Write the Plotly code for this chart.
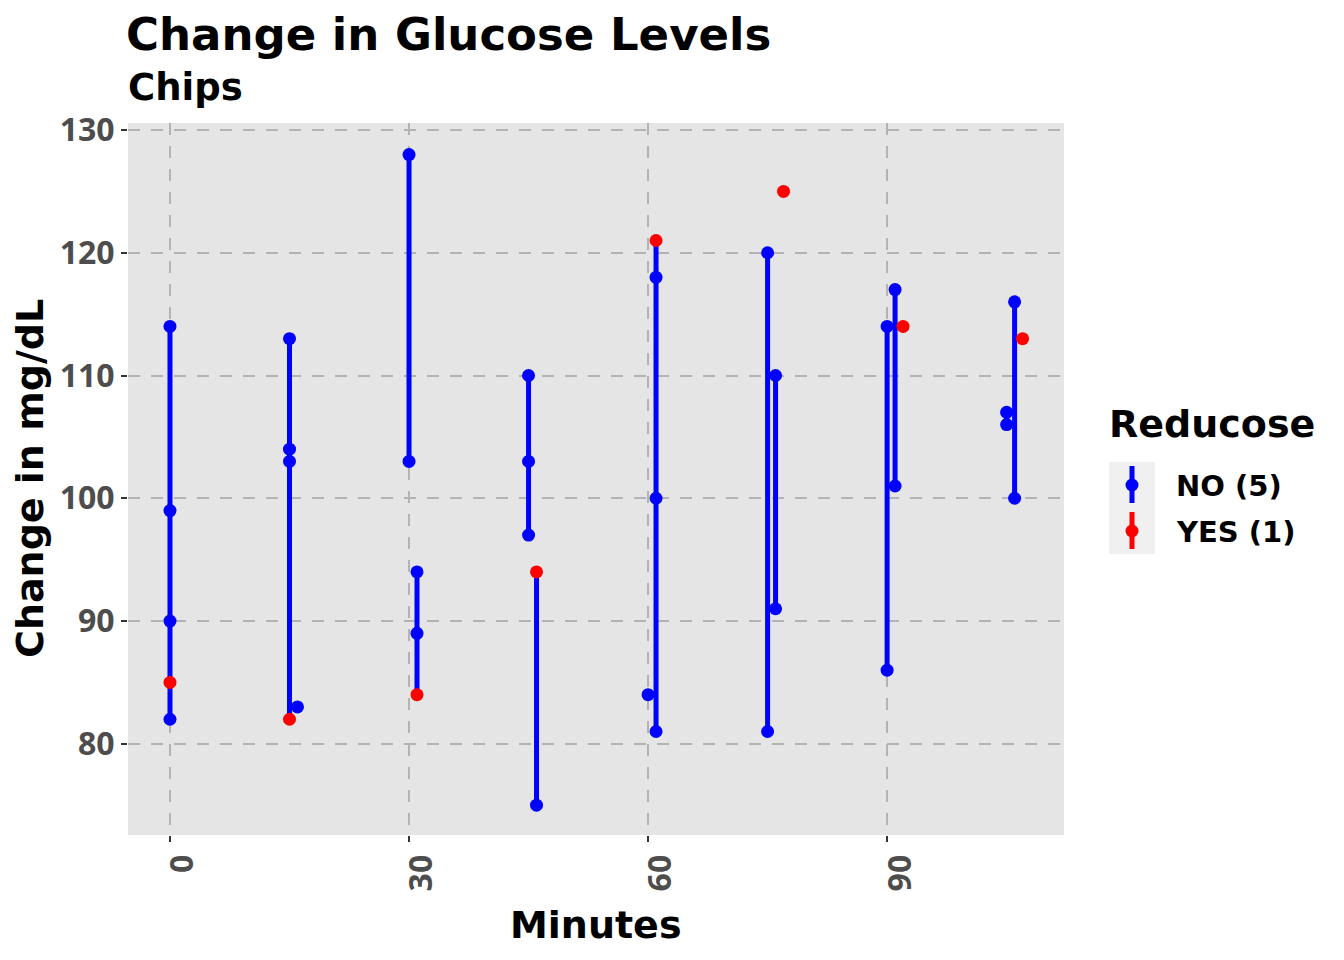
import plotly.graph_objects as go

# ---------------- data ----------------
# x positions are minutes (with the small dodge offsets seen in the chart)
minutes_no = [0, 0, 0, 0,
              15, 15, 15, 16,
              30, 30, 31, 31,
              45, 45, 45, 46,
              60, 61, 61, 61,
              75, 75, 76, 76,
              90, 90, 91, 91,
              105, 105, 106, 106]
glucose_no = [114, 99, 90, 82,
              113, 104, 103, 83,
              128, 103, 94, 89,
              110, 103, 97, 75,
              84, 118, 100, 81,
              120, 81, 110, 91,
              114, 86, 117, 101,
              107, 106, 116, 100]
minutes_yes = [0, 15, 31, 46, 61, 77, 92, 107]
glucose_yes = [85, 82, 84, 94, 121, 125, 114, 113]

x_ticks = [0, 30, 60, 90]
y_ticks = [80, 90, 100, 110, 120, 130]
legend_labels = ["NO (5)", "YES (1)"]
legend_colors = ["#0000FF", "#FF0000"]

# ---------------- geometry (page pixels) ----------------
PAGE_W, PAGE_H = 1344, 960
OFF = 8                      # default body margin of the html page
W, H = PAGE_W - OFF, PAGE_H - OFF
L, R, T, B = 128, 1064, 123, 835
FONT = "DejaVu Sans"
TICKFONT = "Noto Sans"

def px(xp):
    return (xp - L) / (R - L)

def py(yp):
    return (B - yp) / (B - T)

# vertical ranges across all points sharing an x position
all_x = minutes_no + minutes_yes
all_y = glucose_no + glucose_yes
groups = {}
for xv, yv in zip(all_x, all_y):
    groups.setdefault(xv, []).append(yv)
line_x, line_y = [], []
for xv in sorted(groups):
    vals = groups[xv]
    if len(vals) >= 2:
        line_x += [xv, xv, None]
        line_y += [min(vals), max(vals), None]

fig = go.Figure()
fig.add_trace(go.Scatter(x=line_x, y=line_y, mode="lines",
                         line=dict(color="#0000FF", width=5),
                         showlegend=False, hoverinfo="skip"))
fig.add_trace(go.Scatter(x=minutes_no, y=glucose_no, mode="markers",
                         marker=dict(color="#0000FF", size=13),
                         name=legend_labels[0], showlegend=False))
fig.add_trace(go.Scatter(x=minutes_yes, y=glucose_yes, mode="markers",
                         marker=dict(color="#FF0000", size=13),
                         name=legend_labels[1], showlegend=False))

axis_common = dict(
    showgrid=True, gridcolor="#B3B3B3", gridwidth=2.4, griddash="12px,11px",
    zeroline=False, showline=False,
    ticks="outside", ticklen=6, tickwidth=2, tickcolor="#333333",
    tickfont=dict(family=TICKFONT, size=32, color="#4D4D4D", weight="bold"),
)

fig.update_xaxes(range=[-5.27, 112.2], tickvals=x_ticks, tickangle=-90,
                 ticklabelshift=13, **axis_common)
fig.update_yaxes(range=[72.57, 130.57], tickvals=y_ticks, **axis_common)

shapes = []
annotations = []

# manual legend (ggplot style keys)
key_left, key_right = 1109, 1155
key_tops = [462, 508]
for i, (lab, col) in enumerate(zip(legend_labels, legend_colors)):
    top = key_tops[i]
    shapes.append(dict(type="rect", xref="paper", yref="paper",
                       x0=px(key_left), x1=px(key_right),
                       y0=py(top + 46), y1=py(top),
                       fillcolor="#F0F0F0", line=dict(width=0), layer="below"))
    cx = (key_left + key_right) / 2
    shapes.append(dict(type="line", xref="paper", yref="paper",
                       x0=px(cx), x1=px(cx), y0=py(top + 41), y1=py(top + 4),
                       line=dict(color=col, width=5)))
    shapes.append(dict(type="circle", xref="paper", yref="paper",
                       xsizemode="pixel", ysizemode="pixel",
                       xanchor=px(cx), yanchor=py(top + 23),
                       x0=-6.5, x1=6.5, y0=-6.5, y1=6.5,
                       fillcolor=col, line=dict(width=0)))
    annotations.append(dict(text=lab, xref="paper", yref="paper",
                            x=px(1174), y=py(top + 24), xanchor="left",
                            yanchor="middle", showarrow=False,
                            font=dict(family=FONT, size=29, color="black",
                                      weight="bold")))

annotations.append(dict(text="Reducose", xref="paper", yref="paper",
                        x=px(1107), y=py(424), xanchor="left", yanchor="middle",
                        showarrow=False,
                        font=dict(family=FONT, size=38, color="black",
                                  weight="bold")))
# subtitle
annotations.append(dict(text="Chips", xref="paper", yref="paper",
                        x=px(126), y=py(88), xanchor="left", yanchor="middle",
                        showarrow=False,
                        font=dict(family=FONT, size=37, color="black",
                                  weight="bold")))
# axis titles
annotations.append(dict(text="Minutes", xref="paper", yref="paper",
                        x=0.5, y=py(925), xanchor="center", yanchor="middle",
                        showarrow=False,
                        font=dict(family=FONT, size=38, color="black",
                                  weight="bold")))
annotations.append(dict(text="Change in mg/dL", xref="paper", yref="paper",
                        x=px(30), y=0.5, xanchor="center", yanchor="middle",
                        textangle=-90, showarrow=False,
                        font=dict(family=FONT, size=38, color="black",
                                  weight="bold")))

fig.update_layout(
    width=W, height=H,
    margin=dict(l=L - OFF, r=PAGE_W - R, t=T - OFF, b=PAGE_H - B, pad=0),
    paper_bgcolor="white", plot_bgcolor="#E5E5E5",
    title=dict(text="Change in Glucose Levels", x=(L - 2 - OFF) / W,
               xanchor="left", y=1 - (34 - OFF) / H, yanchor="middle",
               xref="container", yref="container",
               font=dict(family=FONT, size=45, color="black", weight="bold")),
    showlegend=False,
    shapes=shapes,
    annotations=annotations,
)

fig.write_html("out.html")
